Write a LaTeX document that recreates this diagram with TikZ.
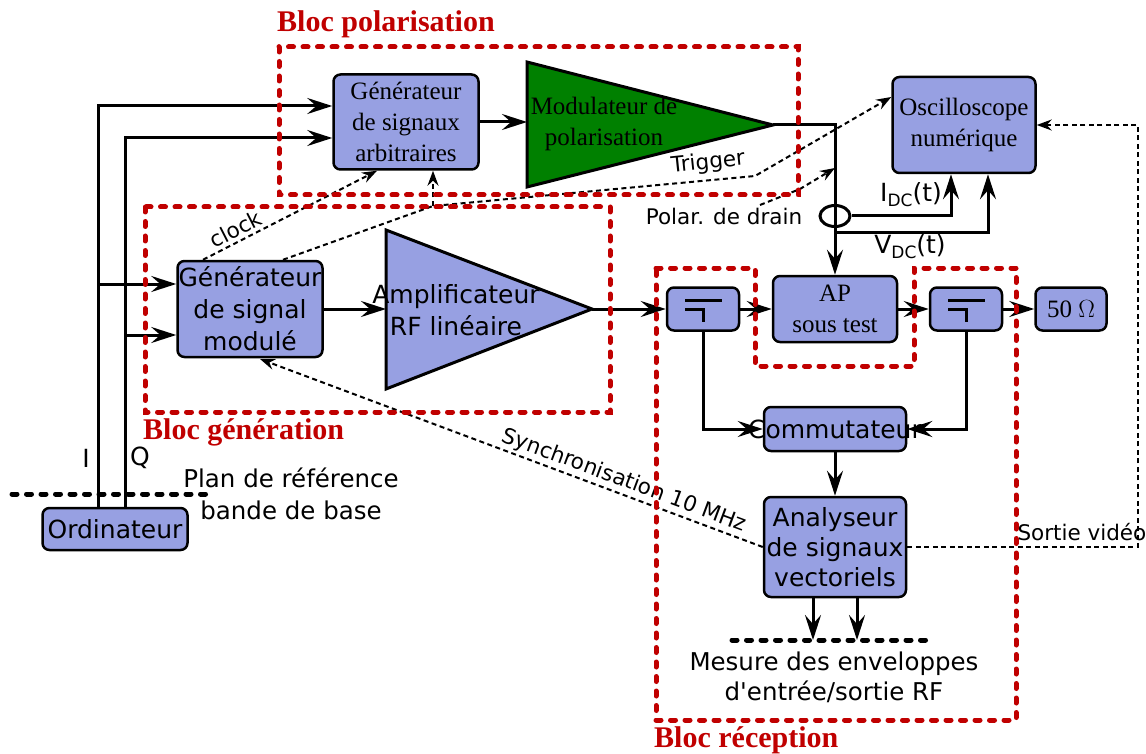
\documentclass[tikz,border=0pt]{standalone}
\usepackage{fontspec}
\setmainfont{Liberation Serif}
\setsansfont{DejaVu Sans}
\usetikzlibrary{arrows.meta,shapes.geometric}
\definecolor{bleubloc}{RGB}{151,160,226}
\definecolor{rougebloc}{RGB}{192,0,0}
\definecolor{vertmod}{RGB}{0,128,0}

% symbole du coupleur dans une boite
\newcommand{\symbcoupleur}[1]{
  \draw[line width=3pt] ([shift={(-18,-9)}]#1.center) -- ++(37,0);
  \draw[line width=3pt] ([shift={(-18,0)}]#1.center) -- ++(18,0) -- ++(0,13);
}

\begin{document}
\begin{tikzpicture}[x=1pt,y=-1pt,
  bloc/.style={draw, line width=2.5pt, rounded corners=7pt, fill=bleubloc, align=center, inner sep=1pt},
  sans/.style={font=\sffamily\fontsize{25}{32}\selectfont},
  serif/.style={font=\fontsize{25}{31}\selectfont},
  petit/.style={font=\sffamily\fontsize{21.5}{26}\selectfont},
  fleche/.style={line width=3pt, -{Stealth[length=25pt,width=16pt,inset=9pt]}},
  pointille/.style={line width=2pt, dash pattern=on 5pt off 3.5pt, -{Stealth[length=15pt,width=11pt,inset=5pt]}},
  zone/.style={draw=rougebloc, line width=5pt, line cap=round, dash pattern=on 5pt off 9.5pt},
  titre/.style={text=rougebloc, font=\bfseries\fontsize{30}{34}\selectfont, anchor=west, inner sep=0pt},
]
\useasboundingbox (0,0) rectangle (1146,754);

% blocs
\node[bloc, sans, minimum width=145, minimum height=42] (ordi) at (115,529) {Ordinateur};
\node[bloc, serif, minimum width=145, minimum height=95] (genarb) at (406,122) {Générateur\\de signaux\\arbitraires};
\node[bloc, serif, minimum width=143, minimum height=96] (osc) at (964,125) {Oscilloscope\\numérique};
\node[bloc, sans, minimum width=145, minimum height=96] (genmod) at (250,309) {Générateur\\de signal\\modulé};
\node[bloc, serif, minimum width=124, minimum height=66] (ap) at (835,309) {AP\\sous test};
\node[bloc, minimum width=72, minimum height=43] (f1) at (703,309) {};
\node[bloc, minimum width=72, minimum height=43] (f2) at (966,309) {};
\node[bloc, serif, minimum width=71, minimum height=43] (charge) at (1071,309) {50~$\Omega$};
\node[bloc, sans, minimum width=142, minimum height=44] (comm) at (835,429) {\makebox[0pt]{Commutateur}};
\node[bloc, sans, minimum width=142, minimum height=100, font=\sffamily\fontsize{25}{30}\selectfont] (vsa) at (835,547) {Analyseur\\de signaux\\vectoriels};
\symbcoupleur{f1}
\symbcoupleur{f2}

% amplis
\draw[line width=3pt, fill=vertmod] (527,62) -- (773,125) -- (527,187) -- cycle;
\coordinate (modin) at (527,124);
\coordinate (modout) at (773,125);
\node[serif, align=center] (modtxt) at (604,124) {Modulateur de\\polarisation};
\draw[line width=3pt, fill=bleubloc] (386,230) -- (592,309) -- (386,389) -- cycle;
\coordinate (ampin) at (386,309);
\coordinate (ampout) at (592,309);
\node[sans, align=center] (amptxt) at (456,310) {Amplificateur\\RF linéaire};

% voies I et Q
\draw[fleche] (ordi.north -| 98,0) |- (genarb.west |- 0,106);
\draw[fleche] (ordi.north -| 125,0) |- (genarb.west |- 0,138);
\draw[fleche] (98,284) -- (genmod.west |- 0,284);
\draw[fleche] (125,335) -- (genmod.west |- 0,335);
\node[sans] (lblI) at (86,458) {I};
\node[sans] (lblQ) at (140,458) {Q};
\draw[line width=5pt, line cap=round, dash pattern=on 5pt off 9.5pt] (12,494) -- (210,494);
\node[sans, align=center, font=\sffamily\fontsize{24.5}{32}\selectfont] (plan) at (291,494) {Plan de référence\\bande de base};

% chaine RF
\draw[fleche] (genarb) -- (genarb -| modin);
\coordinate (coin) at (ap.north |- modout);
\draw[fleche] (modout) -- (coin) -- (ap.north);
\draw[fleche] (genmod) -- (ampin);
\draw[fleche] (ampout) -- (f1);
\draw[fleche] (f1) -- (ap);
\draw[fleche] (ap) -- (f2);
\draw[fleche] (f2) -- (charge);
\draw[fleche] (f1.south) |- (comm.west);
\draw[fleche] (f2.south) |- (comm.east);
\draw[fleche] (comm) -- (vsa);
\coordinate (mes1) at (813,640);
\coordinate (mes2) at (857,640);
\draw[fleche] (vsa.south -| mes1) -- (mes1);
\draw[fleche] (vsa.south -| mes2) -- (mes2);
\draw[line width=5pt, line cap=round, dash pattern=on 5pt off 9.5pt] (732,640) -- (933,640);
\node[sans, align=center, font=\sffamily\fontsize{24.5}{30}\selectfont] (mesure) at (834,677) {Mesure des enveloppes\\d\textquotesingle entrée/sortie RF};

% mesure de polarisation
\node[draw, ellipse, line width=3pt, minimum width=30, minimum height=21, inner sep=0pt] (sonde) at (coin |- 0,216) {};
\draw[fleche] (sonde.east) -| (osc.south -| 951,0);
\draw[fleche] (coin |- 0,233) -| (osc.south -| 988,0);
\node[sans] (idc) at (911,195) {I\raisebox{-0.35ex}{\fontsize{17}{17}\selectfont DC}(t)};
\node[sans] (vdc) at (910,247) {V\raisebox{-0.35ex}{\fontsize{17}{17}\selectfont DC}(t)};

% liaisons en pointilles
\draw[pointille] (genmod.north -| 203,0) -- (genarb.south -| 377,0)
  node[pos=0.22, above, sloped, petit] {clock};
\coordinate (trig) at (433,206);
\draw[pointille] (genmod.north -| 283,0) -- (trig) -- (755,176) -- (osc.west |- 0,97);
\draw[pointille] (trig) -- (genarb.south -| trig);
\node[petit, rotate=6] (lbltrig) at (708,163) {Trigger};
\coordinate (polar) at (760,205);
\draw[pointille] (polar) -- (800,189) -- (coin |- 0,168);
\node[petit] (lblpolar) at (724,216) {Polar. de drain};
\coordinate (synchro) at (260,359);
\draw[pointille] (vsa.west) -- (synchro)
  node[pos=0.285, above, sloped, petit, inner sep=2pt] {Synchronisation 10 MHz};
\draw[pointille] (vsa.east) -- (1138,547) |- (osc.east);
\node[petit, anchor=west] (video) at (1014,532) {Sortie vidéo};

% zones
\draw[zone] (279,47) rectangle (798,195);
\draw[zone] (145,207) rectangle (610,412);
\draw[zone] (656,268) -- (755,268) -- (755,366) -- (914,366) -- (914,268)
  -- (1016,268) -- (1016,720) -- (656,720) -- cycle;
\node[titre] (tpol) at (277,24) {Bloc polarisation};
\node[titre] (tgen) at (143,432) {Bloc génération};
\node[titre] (trec) at (654,740) {Bloc réception};
\end{tikzpicture}
\end{document}
